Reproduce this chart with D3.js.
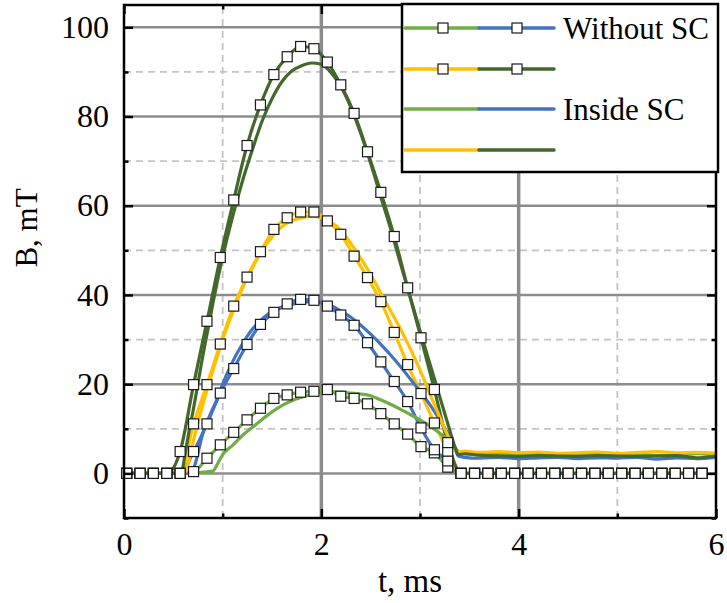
<!DOCTYPE html>
<html>
<head>
<meta charset="utf-8">
<script src="https://cdn.jsdelivr.net/npm/d3@7"></script>
<style>
  html, body { margin: 0; padding: 0; background: #fff; }
  svg { display: block; }
  text { font-family: "Liberation Serif", "Times New Roman", serif; fill: #000; }
</style>
</head>
<body>
<svg id="chart" width="727" height="603"></svg>
<script>
// ---------- DATA ----------
// sample times of the "Without SC" curves (marker positions), ms
const tWithout = [0.027,0.163,0.298,0.434,0.569,0.705,0.841,0.976,1.112,1.247,1.383,1.519,1.654,1.790,1.925,2.061,2.197,2.332,2.468,2.603,2.739,2.875,3.010,3.146,3.281,3.417,3.553,3.688,3.824,3.959,4.095,4.231,4.366,4.502,4.637,4.773,4.909,5.044,5.180,5.315,5.451,5.587,5.722,5.858];
const withoutGreen  = [0,0,0,0,0,0.4,3.4,6.4,9.2,12.0,14.6,16.8,17.6,18.2,18.4,18.8,17.3,16.8,15.6,13.4,11.1,8.8,6.0,4.6,1.4,0,0,0,0,0,0,0,0,0,0,0,0,0,0,0,0,0,0,0];
const withoutBlue   = [0,0,0,0,0,4.9,11.1,18.0,23.5,28.9,33.4,36.1,38.0,39.0,38.8,37.5,35.5,33.2,29.3,25.0,20.6,16.1,10.2,5.3,2.8,0,0,0,0,0,0,0,0,0,0,0,0,0,0,0,0,0,0,0];
const withoutYellow = [0,0,0,0,0,11.1,19.9,29.0,37.5,44.0,49.7,54.7,57.3,58.6,58.6,56.6,53.6,48.7,43.9,38.5,31.6,24.4,17.9,11.3,5.0,0,0,0,0,0,0,0,0,0,0,0,0,0,0,0,0,0,0,0];
const withoutDark   = [0,0,0,0,4.9,19.9,34.1,48.4,61.3,73.5,82.6,89.4,93.4,95.7,95.2,92.2,87.1,80.7,72.1,63.0,53.1,41.6,30.4,18.8,6.9,0,0,0,0,0,0,0,0,0,0,0,0,0,0,0,0,0,0,0];

// sample times of the "Inside SC" curves, ms
const tInside = [0,0.3,0.55,0.58,0.62,0.66,0.7,0.8,0.9,0.95,1.0,1.1,1.2,1.3,1.4,1.5,1.6,1.7,1.8,1.9,2.0,2.1,2.2,2.3,2.4,2.5,2.6,2.7,2.8,2.9,3.0,3.1,3.2,3.3,3.35,3.39,3.45,3.6,3.8,4.0,4.2,4.4,4.6,4.8,5.0,5.2,5.4,5.6,5.8,6.0];
const insideGreen  = [0,0,0,0,0,0,0,0.3,0.5,2.2,4.2,6.3,8.5,10.3,12.1,13.8,15.2,16.3,17.1,17.7,18.2,18.3,18.2,18.0,17.8,17.4,16.5,15.5,14.4,13.2,12.0,10.6,9.0,7.2,6.0,4.8,4.4,4.2,4.4,4.1,4.3,4.0,4.2,4.4,4.1,4.3,4.0,4.2,4.4,4.1];
const insideBlue   = [0,0,0,0,0,0,0.8,9.0,14.5,17.0,20.0,25.0,29.0,32.3,34.6,36.3,37.2,37.9,38.3,38.5,38.3,37.6,36.4,35.0,33.2,31.2,29.0,26.6,24.0,21.2,18.4,15.4,12.0,8.2,5.8,3.9,3.6,3.4,3.6,3.3,3.5,3.6,3.3,3.5,3.4,3.6,3.2,3.5,3.3,3.6];
const insideYellow = [0,0,0,0,0.3,3.0,7.0,15.5,23.0,26.5,30.0,36.0,41.5,46.0,50.0,53.0,55.3,56.6,57.3,57.6,57.3,56.3,54.5,51.5,48.2,44.6,40.5,36.5,32.5,28.0,23.2,17.8,12.6,7.6,5.5,4.8,5.0,4.7,4.9,4.6,4.8,4.5,4.6,4.8,4.5,4.7,4.9,4.6,4.7,4.5];
const insideDark   = [0,0,0,0,4.5,9.5,14.0,26.5,38.0,43.5,48.5,57.5,65.5,72.5,79.0,84.0,87.8,90.2,91.4,92.0,91.7,89.8,86.6,82.0,76.2,69.5,62.2,55.0,47.2,39.6,32.0,24.6,17.2,9.8,6.2,4.2,4.4,4.1,3.9,3.8,4.0,3.9,3.8,4.0,3.9,3.8,3.9,4.0,3.5,3.9];

const xTicksMajor = [0,2,4,6];
const xTicksMinor = [1,3,5];
const yTicksMajor = [0,20,40,60,80,100];
const yTicksMinor = [-10,10,30,50,70,90];
const legendLabels = ["Without SC", "", "Inside SC", ""];

const colors = {green:"#70AD47", blue:"#4472C4", yellow:"#FFC000", dark:"#43682B"};

// ---------- LAYOUT ----------
const W = 727, H = 603;
const m = {left:124, right:11, top:5, bottom:85};
const svg = d3.select("#chart");
const x = d3.scaleLinear().domain([0,6]).range([m.left, W - m.right]);
const y = d3.scaleLinear().domain([-10,105]).range([H - m.bottom, m.top]);

// grid
const grid = svg.append("g");
grid.selectAll(".ymin").data(yTicksMinor.filter(v => v > -10)).join("line")
  .attr("x1", x(0)).attr("x2", x(6)).attr("y1", d => y(d)).attr("y2", d => y(d))
  .attr("stroke", "#c4c4c4").attr("stroke-width", 1.8).attr("stroke-dasharray", "7,5");
grid.selectAll(".xmin").data(xTicksMinor).join("line")
  .attr("x1", d => x(d)).attr("x2", d => x(d)).attr("y1", y(-10)).attr("y2", y(105))
  .attr("stroke", "#c4c4c4").attr("stroke-width", 1.8).attr("stroke-dasharray", "7,5");
grid.selectAll(".ymaj").data(yTicksMajor).join("line")
  .attr("x1", x(0)).attr("x2", x(6)).attr("y1", d => y(d)).attr("y2", d => y(d))
  .attr("stroke", "#8c8c8c").attr("stroke-width", 2.5);
grid.selectAll(".xmaj").data(xTicksMajor.filter(v => v > 0 && v < 6)).join("line")
  .attr("x1", d => x(d)).attr("x2", d => x(d)).attr("y1", y(-10)).attr("y2", y(105))
  .attr("stroke", "#8c8c8c").attr("stroke-width", 3.5);

// curves
const line = d3.line().x(d => x(d[0])).y(d => y(d[1])).curve(d3.curveMonotoneX);
const withoutSeries = [
  {vals: withoutGreen, c: colors.green},
  {vals: withoutBlue, c: colors.blue},
  {vals: withoutYellow, c: colors.yellow},
  {vals: withoutDark, c: colors.dark}
];
const insideSeries = [
  {vals: insideGreen, c: colors.green},
  {vals: insideBlue, c: colors.blue},
  {vals: insideYellow, c: colors.yellow},
  {vals: insideDark, c: colors.dark}
];
const plot = svg.append("g");
withoutSeries.forEach(s => {
  plot.append("path").datum(tWithout.map((t,i) => [t, s.vals[i]]))
    .attr("d", line).attr("fill", "none").attr("stroke", s.c)
    .attr("stroke-width", 3.2).attr("stroke-linejoin", "round");
});
insideSeries.forEach(s => {
  plot.append("path").datum(tInside.map((t,i) => [t, s.vals[i]]))
    .attr("d", line).attr("fill", "none").attr("stroke", s.c)
    .attr("stroke-width", 3.2).attr("stroke-linejoin", "round");
});
const ms = 10;
withoutSeries.forEach(s => {
  plot.append("g").selectAll("rect").data(tWithout.map((t,i) => [t, s.vals[i]])).join("rect")
    .attr("x", d => x(d[0]) - ms/2).attr("y", d => y(d[1]) - ms/2)
    .attr("width", ms).attr("height", ms)
    .attr("fill", "#fff").attr("stroke", "#1a1a1a").attr("stroke-width", 1.2);
});

// axes (inward ticks)
const ax = svg.append("g");
function styleAxis(g) {
  g.select(".domain").remove();
  g.selectAll(".tick line").attr("stroke", "#000").attr("stroke-width", 2.5);
  g.selectAll("text").style("font-size", "32px").attr("fill", "#000");
}
ax.append("g").attr("transform", `translate(${x(0)},0)`)
  .call(d3.axisLeft(y).tickValues(yTicksMajor).tickSize(-9).tickPadding(15).tickFormat(d3.format("d")))
  .call(styleAxis);
ax.append("g").attr("transform", `translate(${x(0)},0)`)
  .call(d3.axisLeft(y).tickValues(yTicksMinor).tickSize(-4.5).tickFormat(""))
  .call(styleAxis);
ax.append("g").attr("transform", `translate(${x(6)},0)`)
  .call(d3.axisRight(y).tickValues(yTicksMajor).tickSize(-9).tickFormat(""))
  .call(styleAxis);
ax.append("g").attr("transform", `translate(${x(6)},0)`)
  .call(d3.axisRight(y).tickValues(yTicksMinor).tickSize(-4.5).tickFormat(""))
  .call(styleAxis);
ax.append("g").attr("transform", `translate(0,${y(-10)})`)
  .call(d3.axisBottom(x).tickValues(xTicksMajor).tickSize(-9).tickPadding(14).tickFormat(d3.format("d")))
  .call(styleAxis);
ax.append("g").attr("transform", `translate(0,${y(-10)})`)
  .call(d3.axisBottom(x).tickValues(xTicksMinor).tickSize(-4.5).tickFormat(""))
  .call(styleAxis);
ax.append("g").attr("transform", `translate(0,${y(105)})`)
  .call(d3.axisTop(x).tickValues(xTicksMajor).tickSize(-9).tickFormat(""))
  .call(styleAxis);
ax.append("g").attr("transform", `translate(0,${y(105)})`)
  .call(d3.axisTop(x).tickValues(xTicksMinor).tickSize(-4.5).tickFormat(""))
  .call(styleAxis);
ax.selectAll("g").attr("font-family", null);

// frame
svg.append("rect").attr("x", x(0)).attr("y", y(105)).attr("width", x(6) - x(0)).attr("height", y(-10) - y(105))
  .attr("fill", "none").attr("stroke", "#000").attr("stroke-width", 2.5);

// axis titles
svg.append("text").attr("x", 410).attr("y", 592).attr("text-anchor", "middle")
  .style("font-size", "33px").text("t, ms");
svg.append("text").attr("transform", `translate(37,228) rotate(-90)`).attr("text-anchor", "middle")
  .style("font-size", "31px").text("B, mT");

// legend
const lg = svg.append("g");
lg.append("rect").attr("x", 402).attr("y", 4).attr("width", 316).attr("height", 168)
  .attr("fill", "#fff").attr("stroke", "#000").attr("stroke-width", 2.5);
const legendRows = [
  {a: colors.green, b: colors.blue, marker: true},
  {a: colors.yellow, b: colors.dark, marker: true},
  {a: colors.green, b: colors.blue, marker: false},
  {a: colors.yellow, b: colors.dark, marker: false}
];
const rowY = [28, 69, 109, 150];
legendRows.forEach((r, i) => {
  const yy = rowY[i];
  lg.append("line").attr("x1", 405).attr("x2", 479).attr("y1", yy).attr("y2", yy)
    .attr("stroke", r.a).attr("stroke-width", 3.5).attr("stroke-linecap", "round");
  lg.append("line").attr("x1", 479).attr("x2", 554).attr("y1", yy).attr("y2", yy)
    .attr("stroke", r.b).attr("stroke-width", 3.5).attr("stroke-linecap", "round");
  if (r.marker) {
    [443, 517].forEach(cx => {
      lg.append("rect").attr("x", cx - ms/2).attr("y", yy - ms/2).attr("width", ms).attr("height", ms)
        .attr("fill", "#fff").attr("stroke", "#1a1a1a").attr("stroke-width", 1.2);
    });
  }
  if (legendLabels[i]) {
    lg.append("text").attr("x", 563).attr("y", yy + 11).style("font-size", "31px").text(legendLabels[i]);
  }
});
</script>
</body>
</html>
